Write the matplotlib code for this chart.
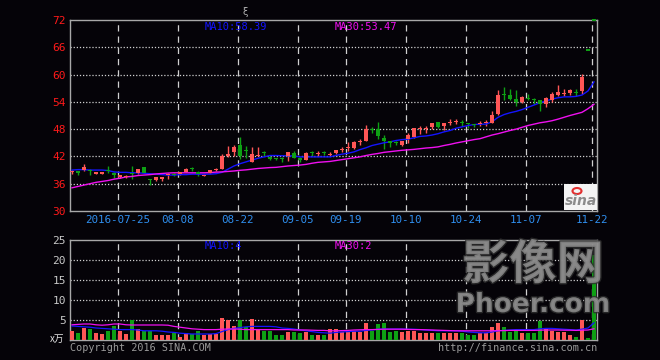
import matplotlib
matplotlib.use('Agg')
import matplotlib.pyplot as plt
import matplotlib.patheffects as pe
from matplotlib.patches import Rectangle, Ellipse
import numpy as np

# ---------------- data ----------------
opens = [38.6, 38.8, 39.1, 39.1, 38.2, 38.2, 39.0, 38.4, 37.4, 37.5,
         38.3, 38.4, 39.6, 37.0, 36.9, 37.1, 37.9, 38.2, 38.2, 38.65,
         39.4, 38.5, 37.7, 38.4, 39.0, 39.3, 42.0, 42.9, 44.5, 43.4,
         40.8, 42.2, 43.0, 41.85, 41.5, 41.6, 42.0, 42.8, 41.6, 41.3,
         42.8, 42.6, 42.9, 42.4, 42.7, 43.4, 43.8, 43.8, 45.2, 45.4,
         47.9, 48.0, 46.1, 45.4, 45.1, 44.6, 45.9, 46.2, 48.0, 48.1,
         48.5, 49.5, 48.6, 49.3, 49.5, 49.5, 49.3, 49.0, 49.2, 49.4,
         49.4, 51.3, 55.7, 55.6, 54.7, 54.0, 54.8, 54.4, 54.3, 53.6,
         54.3, 55.4, 55.8, 55.9, 56.2, 56.4, 65.45, 72.0]
highs = [39.0, 38.9, 40.3, 39.2, 38.6, 38.6, 39.8, 38.5, 38.0, 38.0,
         39.8, 39.3, 39.6, 37.0, 37.4, 37.4, 38.4, 38.3, 38.6, 39.4,
         39.7, 38.9, 38.1, 39.1, 39.5, 42.6, 44.4, 44.6, 46.3, 44.2,
         44.0, 44.0, 43.3, 42.0, 41.6, 41.8, 42.9, 43.2, 41.8, 42.9,
         43.3, 43.2, 43.3, 43.0, 43.5, 44.1, 45.2, 45.4, 45.9, 48.9,
         48.5, 49.6, 46.7, 45.5, 45.4, 45.4, 47.2, 48.3, 48.6, 48.7,
         49.4, 49.5, 49.4, 50.3, 50.2, 50.0, 49.4, 49.1, 49.7, 50.0,
         52.0, 56.5, 57.2, 56.9, 56.7, 55.3, 55.8, 54.9, 54.4, 55.0,
         56.2, 57.6, 56.9, 56.9, 56.9, 60.1, 65.45, 72.0]
lows = [38.1, 38.0, 38.9, 38.0, 38.1, 38.1, 38.4, 37.2, 37.3, 37.3,
        37.1, 38.2, 38.3, 35.8, 36.5, 36.6, 37.0, 37.8, 38.0, 38.6,
        38.9, 37.6, 37.6, 38.3, 38.9, 39.2, 41.8, 42.2, 41.4, 41.6,
        40.7, 42.1, 42.2, 41.3, 41.2, 40.7, 41.05, 41.6, 40.8, 41.2,
        42.1, 42.1, 42.4, 42.2, 42.5, 43.0, 43.2, 43.6, 44.5, 45.3,
        47.1, 45.8, 43.7, 44.0, 44.5, 44.2, 44.9, 46.0, 47.0, 47.2,
        48.0, 48.3, 47.9, 48.9, 49.1, 48.7, 48.3, 48.4, 48.8, 48.8,
        49.3, 51.1, 54.3, 54.3, 53.1, 53.8, 54.3, 53.6, 52.0, 52.9,
        54.0, 55.3, 55.3, 55.6, 55.3, 55.8, 65.45, 72.0]
closes = [38.8, 38.4, 39.7, 38.9, 38.5, 38.5, 38.8, 37.9, 37.9, 37.8,
          38.1, 39.2, 38.3, 36.8, 37.4, 37.4, 38.2, 37.9, 38.5, 39.2,
          39.2, 38.2, 38.0, 39.0, 39.3, 42.1, 42.5, 44.1, 42.2, 43.2,
          42.5, 42.4, 42.8, 41.4, 41.4, 41.5, 42.9, 41.7, 41.2, 42.8,
          42.7, 42.8, 42.8, 42.6, 43.4, 43.6, 43.9, 45.2, 45.4, 48.0,
          47.8, 46.4, 45.3, 44.9, 45.0, 45.3, 46.7, 48.2, 48.2, 48.3,
          49.3, 48.4, 49.3, 49.5, 49.8, 49.4, 49.2, 48.9, 49.4, 49.5,
          51.2, 55.6, 55.6, 54.7, 54.0, 55.0, 54.7, 54.3, 53.6, 54.9,
          55.8, 56.1, 56.0, 56.6, 56.0, 59.4, 65.45, 72.0]
ma10 = [39.0, 39.1, 39.1, 39.0, 39.0, 39.0, 38.9, 38.6, 38.5, 38.5,
        38.4, 38.4, 38.3, 38.2, 38.1, 38.0, 37.9, 37.9, 38.0, 38.0,
        38.1, 38.1, 38.1, 38.1, 38.2, 38.5, 39.2, 39.9, 40.4, 40.8,
        41.2, 41.6, 41.9, 42.2, 42.2, 42.15, 42.15, 42.1, 41.9, 41.9,
        41.9, 41.9, 41.9, 41.9, 42.2, 42.5, 42.7, 43.0, 43.5, 43.9,
        44.4, 44.7, 45.0, 45.2, 45.5, 45.7, 45.8, 46.1, 46.4, 46.5,
        46.7, 47.0, 47.4, 47.7, 48.2, 48.5, 48.8, 49.0, 49.1, 49.1,
        49.6, 50.6, 51.2, 51.6, 51.9, 52.3, 52.8, 53.3, 53.8, 54.2,
        54.6, 54.9, 55.1, 55.1, 55.2, 55.5, 56.4, 58.39]
ma30 = [35.1, 35.4, 35.7, 36.0, 36.3, 36.5, 36.7, 37.0, 37.2, 37.5,
        37.6, 37.8, 37.9, 38.0, 38.15, 38.25, 38.35, 38.4, 38.4, 38.4,
        38.4, 38.4, 38.4, 38.45, 38.55, 38.6, 38.7, 38.8, 38.95, 39.05,
        39.2, 39.35, 39.45, 39.55, 39.6, 39.75, 39.9, 40.0, 40.1, 40.25,
        40.5, 40.7, 40.8, 40.9, 41.1, 41.3, 41.5, 41.7, 41.9, 42.2,
        42.45, 42.65, 42.9, 43.05, 43.2, 43.35, 43.45, 43.55, 43.7, 43.85,
        43.95, 44.1, 44.4, 44.65, 44.95, 45.2, 45.45, 45.7, 45.9, 46.3,
        46.7, 47.0, 47.35, 47.7, 48.0, 48.4, 48.8, 49.1, 49.4, 49.6,
        49.85, 50.2, 50.6, 51.0, 51.35, 51.7, 52.5, 53.47]
volumes = [2.2, 1.8, 3.0, 2.8, 1.8, 1.6, 2.3, 3.6, 2.2, 1.6,
           5.0, 2.8, 2.2, 2.2, 1.2, 1.2, 1.3, 1.7, 0.8, 1.75,
           1.5, 2.2, 1.2, 1.5, 1.5, 5.6, 4.9, 3.6, 5.0, 3.3,
           5.3, 2.6, 2.3, 2.3, 1.3, 1.3, 2.0, 2.0, 1.7, 2.0,
           1.3, 1.2, 1.3, 2.8, 2.8, 1.9, 2.3, 2.3, 1.9, 4.3,
           2.2, 4.1, 4.25, 1.9, 2.3, 1.9, 2.3, 2.2, 1.7, 1.7,
           1.7, 1.7, 1.7, 1.7, 1.7, 1.7, 1.3, 1.3, 1.7, 1.7,
           3.2, 4.3, 3.3, 1.9, 2.6, 1.7, 1.7, 1.7, 4.8, 3.1,
           2.2, 1.9, 1.9, 1.3, 0.8, 5.1, 0.5, 21.3]
vol_ma10 = [3.5, 3.4, 3.3, 3.2, 3.0, 2.9, 2.8, 2.7, 2.6, 2.6,
            2.6, 2.5, 2.3, 2.3, 2.3, 2.2, 2.0, 1.9, 1.7, 1.6,
            1.5, 1.5, 1.5, 1.5, 1.6, 2.1, 2.6, 2.9, 3.1, 3.3,
            3.4, 3.4, 3.4, 3.4, 3.3, 3.0, 2.9, 2.75, 2.5, 2.3,
            2.1, 1.9, 1.8, 1.7, 1.9, 2.0, 2.1, 2.2, 2.2, 2.4,
            2.5, 2.7, 2.75, 2.75, 2.75, 2.75, 2.7, 2.7, 2.6, 2.5,
            2.4, 2.3, 2.3, 2.3, 2.3, 2.2, 2.0, 1.9, 1.8, 1.8,
            2.0, 2.3, 2.4, 2.5, 2.6, 2.6, 2.6, 2.6, 2.8, 2.9,
            2.9, 2.8, 2.7, 2.6, 2.5, 2.7, 3.0, 4.3]
vol_ma30 = [3.8, 3.9, 4.0, 4.0, 3.8, 3.7, 3.8, 4.0, 4.0, 3.8,
            3.75, 3.75, 3.75, 3.75, 3.75, 3.75, 3.7, 3.4, 3.2, 3.0,
            2.8, 2.7, 2.6, 2.6, 2.6, 2.7, 2.75, 2.75, 2.7, 2.6,
            2.6, 2.6, 2.6, 2.6, 2.6, 2.6, 2.6, 2.5, 2.5, 2.5,
            2.45, 2.4, 2.4, 2.3, 2.3, 2.35, 2.4, 2.5, 2.55, 2.6,
            2.6, 2.65, 2.7, 2.7, 2.7, 2.7, 2.65, 2.6, 2.6, 2.55,
            2.5, 2.45, 2.4, 2.35, 2.3, 2.3, 2.3, 2.3, 2.3, 2.3,
            2.3, 2.35, 2.35, 2.4, 2.4, 2.4, 2.4, 2.4, 2.45, 2.5,
            2.5, 2.5, 2.45, 2.45, 2.4, 2.45, 2.5, 2.8]
date_labels = ['2016-07-25', '08-08', '08-22', '09-05', '09-19',
               '10-10', '10-24', '11-07', '11-22']
date_idx = [8, 18, 28, 38, 46, 56, 66, 76, 87]
price_ticks = [30, 36, 42, 48, 54, 60, 66, 72]
vol_ticks = [5, 10, 15, 20, 25]
ma_price_labels = ['MA10:58.39', 'MA30:53.47']
ma_vol_labels = ['MA10:4', 'MA30:2']

# ---------------- style ----------------
BG = '#050308'
RED = '#ff5656'
GREEN = '#0ea014'
BLUE = '#1414ff'
MAG = '#f010f0'
FRAME = '#a8a8a8'
GRID = '#d0d0d0'
MONO = 'DejaVu Sans Mono'

W, H = 660, 360
fig = plt.figure(figsize=(6.6, 3.6), dpi=100, facecolor=BG)
ax = fig.add_axes([70 / W, 1 - 211 / H, 527 / W, 191 / H])
axv = fig.add_axes([70 / W, 1 - 340 / H, 527 / W, 100 / H])

N = len(closes)
x = np.arange(N)
o = np.array(opens); h = np.array(highs); l = np.array(lows); c = np.array(closes)
up = c > o
colors = [RED if u else GREEN for u in up]
grid_x = [d - 0.35 for d in date_idx]
xlim = (-0.33, 87.5)

for a in (ax, axv):
    a.set_facecolor(BG)
    for s in a.spines.values():
        s.set_color(FRAME)
        s.set_linewidth(1.0)
    a.set_xlim(*xlim)
    for gx in grid_x:
        a.axvline(gx, color=GRID, lw=0.9, ls=(0, (5, 4)), zorder=1)
    a.tick_params(length=0)

# price panel
ax.set_ylim(30, 72)
for yv in price_ticks[1:-1]:
    ax.axhline(yv, color=GRID, lw=0.9, ls=(0, (1, 1.5)), zorder=1)
ax.vlines(x, l, h, colors=colors, lw=1.0, zorder=3)
bottoms = np.minimum(o, c)
heights = np.maximum(np.abs(c - o), 0.22)
flat = np.abs(c - o) < 1e-9
bottoms = np.where(flat, bottoms - 0.18, bottoms)
heights = np.where(flat, 0.36, heights)
ax.bar(x, heights, bottom=bottoms, width=0.72, color=colors, zorder=6, linewidth=0,
       clip_on=False)
ax.plot(x, ma10, color=BLUE, lw=1.0, zorder=5)
ax.plot(x, ma30, color=MAG, lw=1.0, zorder=5)
ax.set_yticks(price_ticks)
ax.set_yticklabels([str(t) for t in price_ticks], color='#ff1a1a', fontsize=8, family=MONO)
ax.tick_params(axis='y', pad=3)
ax.set_xticks(grid_x)
ax.set_xticklabels(date_labels, color='#2f8fef', fontsize=7.8, family=MONO)
ax.tick_params(axis='x', pad=3)

# volume panel
axv.set_ylim(0, 25)
for yv in vol_ticks[:-1]:
    axv.axhline(yv, color=GRID, lw=0.9, ls=(0, (1, 1.5)), zorder=1)
axv.bar(x, volumes, width=0.82, color=colors, zorder=3, linewidth=0)
axv.plot(x, vol_ma10, color=BLUE, lw=0.9, zorder=5)
axv.plot(x, vol_ma30, color=MAG, lw=0.9, zorder=5)
axv.set_yticks(vol_ticks)
axv.set_yticklabels([str(t) for t in vol_ticks], color='#c8c8c8', fontsize=8, family=MONO)
axv.tick_params(axis='y', pad=3)
axv.set_xticks([])

# texts
fig.text(205 / W, 1 - 27 / H, ma_price_labels[0], color=BLUE, fontsize=7.5, family=MONO, va='center')
fig.text(335 / W, 1 - 27 / H, ma_price_labels[1], color=MAG, fontsize=7.5, family=MONO, va='center')
fig.text(205 / W, 1 - 246 / H, ma_vol_labels[0], color=BLUE, fontsize=7.5, family=MONO, va='center')
fig.text(335 / W, 1 - 246 / H, ma_vol_labels[1], color=MAG, fontsize=7.5, family=MONO, va='center')
fig.text(245 / W, 1 - 12 / H, 'ξ', color='#b0b0b0', fontsize=7, ha='center', va='center')
fig.text(64 / W, 1 - 339 / H, 'x万', color='#e0e0e0', fontsize=7,
         family=['Noto Sans CJK SC', 'DejaVu Sans'], ha='right', va='center')
fig.text(70 / W, 1 - 348 / H, 'Copyright 2016 SINA.COM', color='#9a9a9a', fontsize=7.3,
         family=MONO, va='center')
fig.text(597 / W, 1 - 348 / H, 'http://finance.sina.com.cn', color='#9a9a9a', fontsize=7.3,
         family=MONO, va='center', ha='right')

# sina logo box
fig.patches.append(Rectangle((564 / W, 1 - 210 / H), 33 / W, 26 / H, transform=fig.transFigure,
                             facecolor='#f4f4f4', edgecolor='none', zorder=6))
fig.patches.append(Ellipse((577 / W, 1 - 191 / H), 9 / W, 6 / H, transform=fig.transFigure,
                           facecolor='none', edgecolor='#e23030', lw=1.5, zorder=7))
fig.text(581 / W, 1 - 201 / H, 'sina', color='#8c8c8c', fontsize=10, style='italic',
         fontweight='bold', ha='center', va='center', zorder=8)

# watermark
wm_fx = [pe.withStroke(linewidth=2, foreground='#2e2e2e')]
fig.text(533 / W, 1 - 265 / H, '影像网', color='#8e8e8e', alpha=0.8, fontsize=34,
         family=['Noto Sans CJK SC', 'DejaVu Sans'], fontweight='bold',
         ha='center', va='center', zorder=9, path_effects=wm_fx)
fig.text(533 / W, 1 - 305 / H, 'Phoer.com', color='#8e8e8e', alpha=0.8, fontsize=19,
         family='DejaVu Sans', fontweight='bold', ha='center', va='center', zorder=9,
         path_effects=wm_fx)

fig.savefig('out.png', dpi=100, facecolor=BG)
